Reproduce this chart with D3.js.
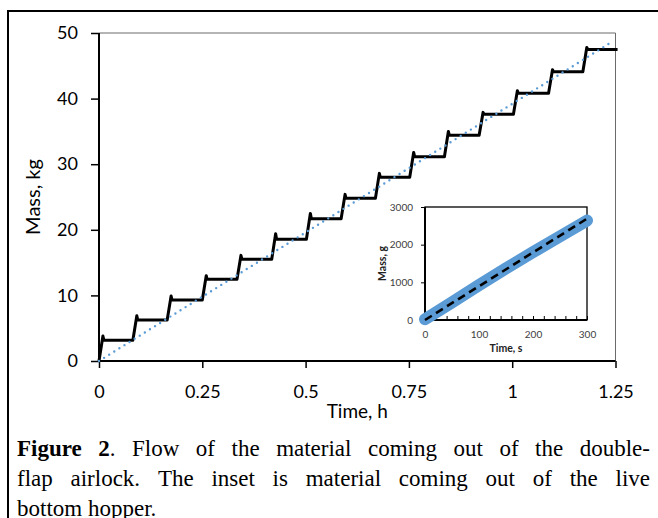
<!DOCTYPE html>
<html>
<head>
<meta charset="utf-8">
<script src="https://cdn.jsdelivr.net/npm/d3@7"></script>
<style>
  body { margin: 0; background: #fff; }
  text { font-family: Lato, "Open Sans", sans-serif; }
</style>
</head>
<body>
<div class="chart"></div>
<script>
// main chart: mass discharged by the double-flap airlock (kg vs h)
var dumpStart = [0, 0.082, 0.165, 0.25, 0.334, 0.418, 0.502, 0.586, 0.669, 0.752, 0.836, 0.92, 1.003, 1.088, 1.171];
var dumpPeak  = [3.8, 6.9, 9.9, 13.0, 16.1, 19.4, 22.5, 25.4, 28.6, 31.8, 35.0, 37.9, 41.2, 44.4, 47.8];
var dumpLevel = [3.15, 6.25, 9.3, 12.45, 15.5, 18.55, 21.7, 24.8, 28.0, 31.15, 34.4, 37.6, 40.8, 44.1, 47.5];
var endTime = 1.255;
var riseTime = 0.0095;

var fitTime = [0, 1.245];
var fitMass = [0, 48.8];

var xTicks = [0, 0.25, 0.5, 0.75, 1, 1.25];
var yTicks = [0, 10, 20, 30, 40, 50];

// inset: live bottom hopper (g vs s)
var insetTime = [0, 50, 100, 150, 200, 250, 300];
var insetMass = [20, 470, 925, 1370, 1800, 2220, 2640];
var insetFitTime = [0, 300];
var insetFitMass = [0, 2690];
var insetXTicks = [0, 100, 200, 300];
var insetYTicks = [0, 1000, 2000, 3000];

// caption lines; first words of line 1 are bold
var captionBold = "Figure 2";
var captionLines = [
  "Figure 2. Flow of the material coming out of the double-",
  "flap airlock. The inset is material coming out of the live",
  "bottom hopper."
];

var W = 658, H = 518;
var svg = d3.select(".chart").append("svg")
  .attr("width", W).attr("height", H);

// outer frame
svg.append("path")
  .attr("d", "M8," + (H + 5) + "V11H" + (W + 5))
  .attr("fill", "none").attr("stroke", "#000").attr("stroke-width", 2);

var x = d3.scaleLinear().domain([0, 1.25]).range([99, 615.5]);
var y = d3.scaleLinear().domain([0, 50]).range([361, 33]);

// plot box (top and right)
svg.append("path")
  .attr("d", "M" + x(0) + "," + y(50) + "H" + x(1.25) + "V" + y(0))
  .attr("fill", "none").attr("stroke", "#6b6b6b").attr("stroke-width", 1);

// axes
var gy = svg.append("g").attr("transform", "translate(" + x(0) + ",0)")
  .call(d3.axisLeft(y).tickValues(yTicks).tickSize(8).tickPadding(13).tickFormat(d3.format("d")));
var gx = svg.append("g").attr("transform", "translate(0," + y(0) + ")")
  .call(d3.axisBottom(x).tickValues(xTicks).tickSize(7).tickPadding(17).tickFormat(function(d) { return String(d); }));
[gy, gx].forEach(function(g) {
  g.select(".domain").attr("stroke", "#000").attr("stroke-width", 2);
  g.selectAll(".tick line").attr("stroke", "#000").attr("stroke-width", 1.5);
  g.selectAll(".tick text").attr("fill", "#000").style("font-size", "18px").style("font-family", "Lato");
});
gy.select(".domain").attr("d", "M0," + y(0) + "V" + y(50));
gx.select(".domain").attr("d", "M" + x(0) + ",0H" + x(1.25));

svg.append("text")
  .attr("x", (x(0) + x(1.25)) / 2).attr("y", 418)
  .attr("text-anchor", "middle").style("font-size", "19px")
  .text("Time, h");
svg.append("text")
  .attr("transform", "translate(40," + (y(0) + y(50)) / 2 + ") rotate(-90)")
  .attr("text-anchor", "middle").style("font-size", "20px")
  .text("Mass, kg");

// staircase of the airlock discharges
var steps = [[0, 0]];
var prev = 0;
dumpStart.forEach(function(t, i) {
  steps.push([t, prev]);
  steps.push([t + riseTime, dumpPeak[i]]);
  steps.push([t + riseTime * 1.25, dumpLevel[i]]);
  prev = dumpLevel[i];
});
steps.push([endTime, prev]);

var line = d3.line().x(function(d) { return x(d[0]); }).y(function(d) { return y(d[1]); });
svg.append("path").datum(steps)
  .attr("d", line)
  .attr("fill", "none").attr("stroke", "#000").attr("stroke-width", 3)
  .attr("stroke-linejoin", "round");

// dotted linear trend
svg.append("path").datum(d3.zip(fitTime, fitMass))
  .attr("d", line)
  .attr("fill", "none").attr("stroke", "#5b9bd5").attr("stroke-width", 2.4)
  .attr("stroke-dasharray", "0 6").attr("stroke-linecap", "round");

// ---- inset ----
var xi = d3.scaleLinear().domain([0, 300]).range([425, 587]);
var yi = d3.scaleLinear().domain([0, 3000]).range([320, 207]);

svg.append("rect")
  .attr("x", xi(0)).attr("y", yi(3000))
  .attr("width", xi(300) - xi(0)).attr("height", yi(0) - yi(3000))
  .attr("fill", "#fff").attr("stroke", "#000").attr("stroke-width", 1.3);

var giy = svg.append("g").attr("transform", "translate(" + xi(0) + ",0)")
  .call(d3.axisLeft(yi).tickValues(insetYTicks).tickSize(4).tickPadding(8).tickFormat(d3.format("d")));
var gix = svg.append("g").attr("transform", "translate(0," + yi(0) + ")")
  .call(d3.axisBottom(xi).tickValues(insetXTicks).tickSize(0).tickPadding(11).tickFormat(d3.format("d")));
var gixMinor = svg.append("g").attr("transform", "translate(0," + yi(0) + ")")
  .call(d3.axisBottom(xi).tickValues(d3.range(0, 301, 20)).tickSize(-4).tickFormat(""));
gixMinor.select(".domain").remove();
gixMinor.selectAll(".tick line").attr("stroke", "#000").attr("stroke-width", 1);
[giy, gix].forEach(function(g) {
  g.select(".domain").attr("stroke", "#000").attr("stroke-width", 2);
  g.selectAll(".tick line").attr("stroke", "#000");
  g.selectAll(".tick text").attr("fill", "#404040").style("font-size", "10px").style("font-family", "Lato");
});
giy.select(".domain").attr("d", "M0," + yi(0) + "V" + yi(3000));
gix.select(".domain").attr("d", "M" + xi(0) + ",0H" + xi(300));

svg.append("text")
  .attr("x", (xi(0) + xi(300)) / 2).attr("y", 352)
  .attr("text-anchor", "middle").style("font-size", "10.5px").style("font-weight", "bold").attr("fill", "#222")
  .text("Time, s");
svg.append("text")
  .attr("transform", "translate(386," + (yi(0) + yi(3000)) / 2 + ") rotate(-90)")
  .attr("text-anchor", "middle").style("font-size", "10.5px").style("font-weight", "bold").attr("fill", "#222")
  .text("Mass, g");

var iline = d3.line().x(function(d) { return xi(d[0]); }).y(function(d) { return yi(d[1]); });
svg.append("path").datum(d3.zip(insetTime, insetMass))
  .attr("d", iline)
  .attr("fill", "none").attr("stroke", "#5b9bd5").attr("stroke-width", 12)
  .attr("stroke-linecap", "round").attr("stroke-linejoin", "round");
svg.append("path").datum(d3.zip(insetFitTime, insetFitMass))
  .attr("d", iline)
  .attr("fill", "none").attr("stroke", "#000").attr("stroke-width", 2.6)
  .attr("stroke-dasharray", "8 5");

// ---- caption (justified by hand: spread words over the line) ----
var capLeft = 17, capRight = 650;
captionLines.forEach(function(str, i) {
  var t = svg.append("text")
    .attr("y", 456 + i * 30)
    .style("font-family", "'Liberation Serif', 'Times New Roman', serif")
    .style("font-size", "23px").attr("fill", "#000");
  var rest = str;
  var words = [];
  if (i === 0 && str.indexOf(captionBold) === 0) {
    rest = str.slice(captionBold.length);
    var bw = captionBold.split(" ");
    bw.forEach(function(w, k) {
      var ws = t.append("tspan");
      ws.append("tspan").style("font-weight", "bold").text(w);
      if (k === bw.length - 1) {
        var tail = rest.split(" ")[0];
        ws.append("tspan").text(tail);
        rest = rest.slice(tail.length).trim();
      }
      words.push(ws);
    });
  }
  rest.split(" ").forEach(function(w) {
    if (w) words.push(t.append("tspan").text(w));
  });
  var widths = words.map(function(w) { return w.node().getComputedTextLength(); });
  var total = d3.sum(widths);
  var last = i === captionLines.length - 1;
  var gap = last ? 5.8 : (capRight - capLeft - total) / (words.length - 1);
  var cx = capLeft;
  words.forEach(function(w, k) {
    w.attr("x", cx);
    cx += widths[k] + gap;
  });
});
</script>
</body>
</html>
